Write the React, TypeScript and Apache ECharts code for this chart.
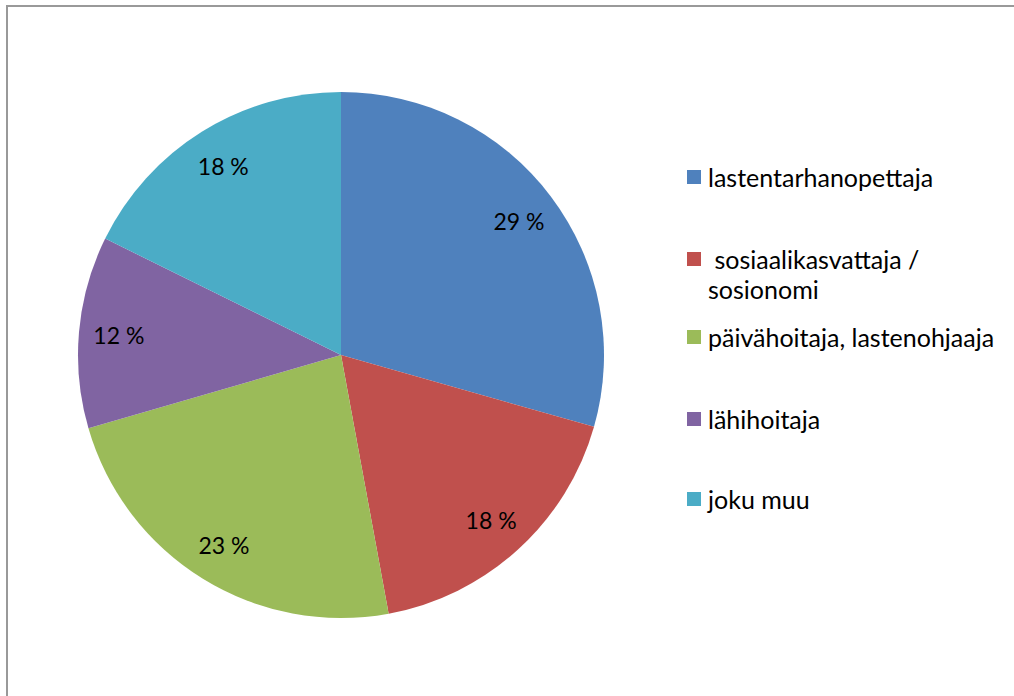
import React, { useEffect, useRef } from "react";
import * as echarts from "echarts";

const categories = [
  "lastentarhanopettaja",
  " sosiaalikasvattaja /\nsosionomi",
  "päivähoitaja, lastenohjaaja",
  "lähihoitaja",
  "joku muu",
];
const values = [29.4, 17.7, 23.4, 11.8, 17.7];
const colors = ["#4F81BD", "#C0504D", "#9BBB59", "#8064A2", "#4BACC6"];
const legendTops = [162, 214, 322, 404, 484];

const FONT = "Lato, 'Open Sans', sans-serif";

export default function App() {
  const ref = useRef<HTMLDivElement>(null);
  useEffect(() => {
    if (!ref.current) return;
    const chart = echarts.init(ref.current, undefined, { renderer: "svg" });
    const data = categories.map((name, i) => ({
      name,
      value: values[i],
      itemStyle: { color: colors[i] },
    }));
    const legends = categories.map((name, i) => ({
      orient: "vertical" as const,
      left: 687,
      top: legendTops[i],
      padding: 0,
      itemWidth: 14,
      itemHeight: 14,
      icon: "rect",
      selectedMode: false,
      data: [name],
      formatter: (n: string) => (n.indexOf("\n") >= 0 ? "\n" + n : n),
      textStyle: {
        fontFamily: FONT,
        fontSize: 25,
        color: "#000",
        lineHeight: 30,
        padding: [0, 0, 0, 2],
      },
    }));
    chart.setOption({
      animation: false,
      backgroundColor: "#fff",
      graphic: [
        {
          type: "rect",
          shape: { x: 7, y: 6, width: 1030, height: 720 },
          style: { fill: "none", stroke: "#999", lineWidth: 2 },
          silent: true,
        },
      ],
      legend: legends,
      series: [
        {
          type: "pie",
          center: [341, 355],
          radius: 263,
          startAngle: 90,
          clockwise: true,
          label: { show: false },
          labelLine: { show: false },
          emphasis: { disabled: true },
          data,
        },
        {
          type: "pie",
          center: [341, 355],
          radius: [177, 263],
          startAngle: 90,
          clockwise: true,
          silent: true,
          itemStyle: { color: "rgba(0,0,0,0)" },
          label: {
            show: true,
            position: "inside",
            formatter: (p: any) => `${Math.round(p.value)} %`,
            fontFamily: FONT,
            fontSize: 23,
            color: "#000",
          },
          labelLine: { show: false },
          emphasis: { disabled: true },
          data: categories.map((name, i) => ({
            name,
            value: values[i],
            itemStyle: { color: "rgba(0,0,0,0)" },
          })),
        },
      ],
    });
    return () => chart.dispose();
  }, []);
  return (
    <div
      ref={ref}
      style={{ position: "fixed", left: 0, top: 0, width: 1014, height: 696 }}
    />
  );
}
